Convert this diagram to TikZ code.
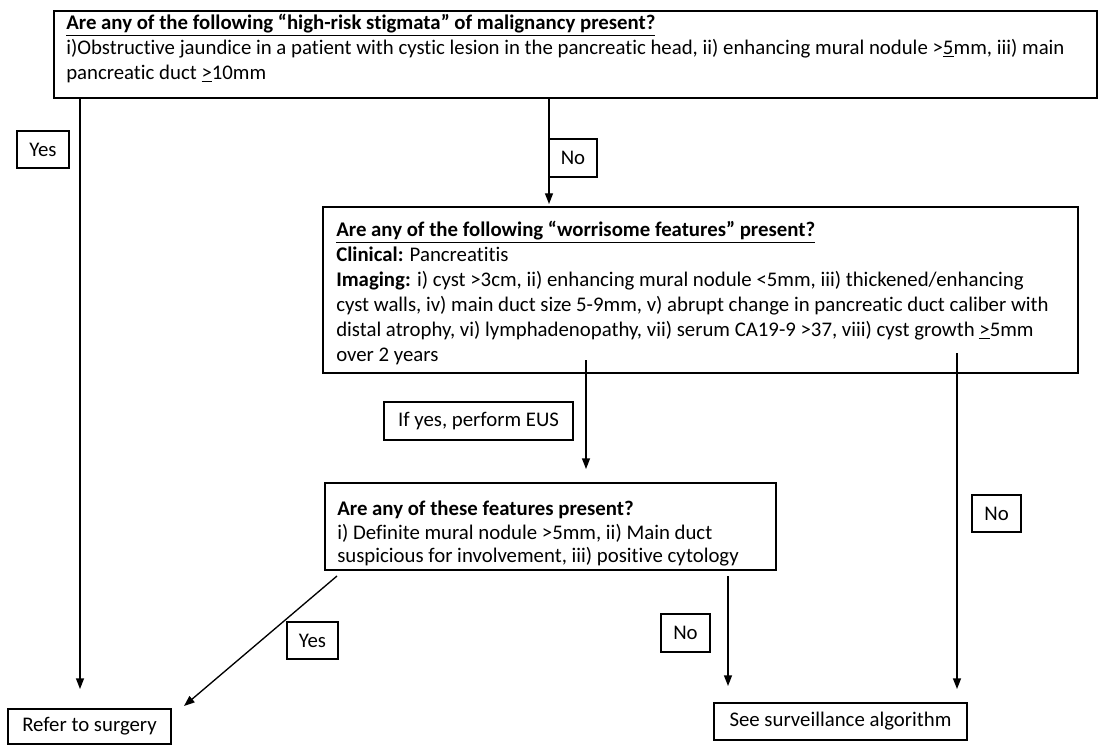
\documentclass[tikz,border=0pt]{standalone}
\usepackage{fontspec}
\setmainfont{Carlito}[Ligatures={NoCommon}]
\usetikzlibrary{arrows.meta,fit}
\begin{document}
\begin{tikzpicture}[x=0.75pt,y=-0.75pt,
  box/.style={draw,line width=1.3pt,inner sep=0pt},
  txt/.style={anchor=north west,align=left,inner sep=0pt,font=\fontsize{15.6}{18.7}\selectfont},
  txtb/.style={txt,font=\fontsize{15.6}{17.4}\selectfont},
  lbl/.style={draw,line width=1.1pt,inner sep=0pt,font=\fontsize{15.6}{18}\selectfont},
  arr/.style={line width=1pt,-{Triangle[length=8pt,width=6pt]}}]
\useasboundingbox (0,0) rectangle (1099,745);
% main boxes
\coordinate (b1a) at (54,11);  \coordinate (b1b) at (1097,98);
\coordinate (b2a) at (323,207); \coordinate (b2b) at (1078,373);
\coordinate (b3a) at (325,483); \coordinate (b3b) at (776,570);
\node[box,fit=(b1a)(b1b)] (b1) {};
\node[box,fit=(b2a)(b2b)] (b2) {};
\node[box,fit=(b3a)(b3b)] (b3) {};
\node[txt] (t1) at (66,14) {\underline{\textbf{Are any of the following “high-risk stigmata” of malignancy present?}}\\
i)Obstructive jaundice in a patient with cystic lesion in the pancreatic head, ii) enhancing mural nodule >\underline{5}mm, iii) main\\
pancreatic duct \underline{>}10mm};
\node[txt] (t2) at (336,221) {\underline{\textbf{Are any of the following “worrisome features” present?}}\\
\textbf{Clinical:} Pancreatitis\\
\textbf{Imaging:} i) cyst >3cm, ii) enhancing mural nodule <5mm, iii) thickened/enhancing\\
cyst walls, iv) main duct size 5-9mm, v) abrupt change in pancreatic duct caliber with\\
distal atrophy, vi) lymphadenopathy, vii) serum CA19-9 >37, viii) cyst growth \underline{>}5mm\\
over 2 years};
\node[txtb] (t3) at (337,501) {\textbf{Are any of these features present?}\\
i) Definite mural nodule >5mm, ii) Main duct\\
suspicious for involvement, iii) positive cytology};
% end boxes
\node[lbl,minimum width=122.25pt,minimum height=26.25pt] (surg) at (89.5,726.5) {Refer to surgery};
\node[lbl,minimum width=189.75pt,minimum height=27.75pt] (surv) at (840.5,721.5) {See surveillance algorithm};
% labels
\node[lbl,minimum width=39pt,minimum height=27.75pt] (yes1) at (43,149.5) {Yes};
\node[lbl,minimum width=36pt,minimum height=28.5pt] (no1) at (573,158) {No};
\node[lbl,minimum width=141.75pt,minimum height=28.5pt] (eus) at (478.5,421) {If yes, perform EUS};
\node[lbl,minimum width=38.25pt,minimum height=27.75pt] (yes2) at (312.5,640.5) {Yes};
\node[lbl,minimum width=36.75pt,minimum height=28.5pt] (no2) at (685.5,633) {No};
\node[lbl,minimum width=36.75pt,minimum height=27.75pt] (no3) at (996.5,513.5) {No};
% connectors
\coordinate (e1) at (80,689);
\coordinate (s2) at (549,98);  \coordinate (e2) at (549,204);
\coordinate (s3) at (586,360); \coordinate (e3) at (586,469);
\coordinate (s4) at (957,353); \coordinate (e4) at (957,689);
\coordinate (s5) at (337,576); \coordinate (e5) at (184,706);
\coordinate (s6) at (728,576); \coordinate (e6) at (728,686);
\draw[arr] (b1.south -| e1) -- (e1);
\draw[arr] (s2) -- (e2);
\draw[arr] (s3) -- (e3);
\draw[arr] (s4) -- (e4);
\draw[arr] (s5) -- (e5);
\draw[arr] (s6) -- (e6);
\end{tikzpicture}
\end{document}
